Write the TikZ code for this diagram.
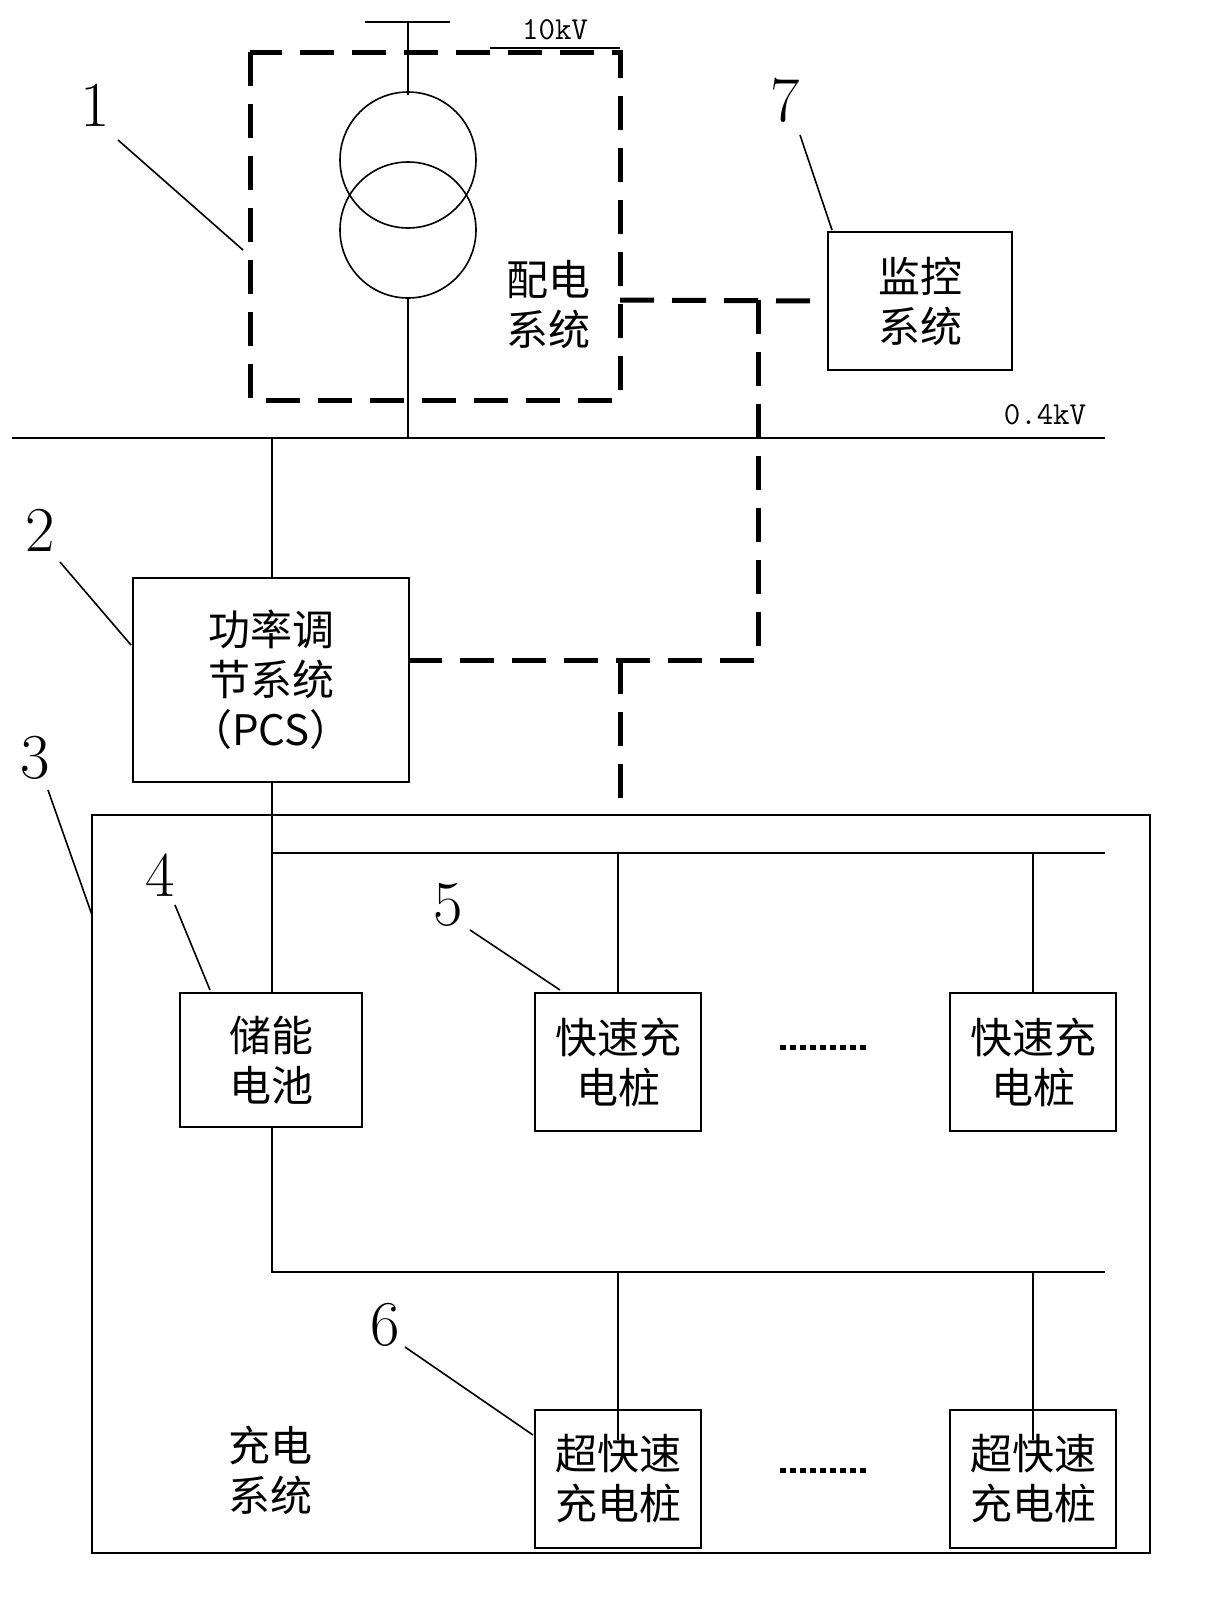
\documentclass[tikz,border=0pt]{standalone}
\usepackage{fontspec}
\newfontfamily\cjk{Noto Sans CJK SC}
\usetikzlibrary{positioning}

\begin{document}
\begin{tikzpicture}[x=0.5pt,y=-0.5pt,
    box/.style={draw,thick,minimum width=#1,inner sep=0pt,align=center,font=\cjk\fontsize{21}{25}\selectfont},
    wire/.style={draw,thick},
    ctrl/.style={draw,line width=2.5pt,dash pattern=on 17pt off 9pt},
    more/.style={draw,line width=2.5pt,dash pattern=on 3pt off 2pt},
    num/.style={font=\fontsize{32}{32}\selectfont},
    lbl/.style={font=\ttfamily\fontsize{16}{16}\selectfont}]
  \useasboundingbox (0,0) rectangle (1211,1623);
  % distribution system
  \draw[ctrl] (250,52) rectangle (620,400);
  \coordinate (hv) at (408,22);
  \draw[wire] (365,22) -- (450,22);
  \draw[wire] (hv) -- (408,95);
  \draw[wire] (408,160) circle (68);
  \draw[wire] (408,230) circle (68);
  \draw[wire] (490,48) -- (620,48);
  \node[lbl] at (555,30) {10kV};
  \node[box,draw=none] (dist) at (548,305) {配电\\系统};
  % 0.4kV bus
  \coordinate (busL) at (12,438);
  \coordinate (busR) at (1105,438);
  \draw[wire] (busL) -- (busR);
  \draw[wire] (408,298) -- (408,438);
  \node[lbl] at (1045,415) {0.4kV};
  % monitoring
  \node[box,minimum width=92pt,minimum height=69pt] (mon) at (920,301) {监控\\系统};
  \node[box,minimum width=138pt,minimum height=102pt] (pcs) at (271,680) {功率调\\节系统\\（PCS）};
  \draw[ctrl] (620,300) -- (mon.west);
  \draw[ctrl] (758,300) -- (758,660) -- (pcs.east |- 0,660);
  \draw[ctrl] (620,660) -- (620,815);
  \draw[wire] (272,438) -- (pcs.north -| 272,0);
  % charging system
  \draw[wire] (92,815) rectangle (1150,1553);
  \node[box,draw=none] at (270,1470) {充电\\系统};
  \node[box,minimum width=91pt,minimum height=67pt] (bat) at (271,1060) {储能\\电池};
  \node[box,minimum width=83pt,minimum height=69pt] (fast1) at (618,1062) {快速充\\电桩};
  \node[box,minimum width=83pt,minimum height=69pt] (fast2) at (1033,1062) {快速充\\电桩};
  \node[box,minimum width=83pt,minimum height=69pt] (ultra1) at (618,1479) {超快速\\充电桩};
  \node[box,minimum width=83pt,minimum height=69pt] (ultra2) at (1033,1479) {超快速\\充电桩};
  \draw[wire] (pcs.south -| 272,0) -- (bat.north -| 272,0);
  \draw[wire] (272,853) -- (1105,853);
  \draw[wire] (618,853) -- (fast1.north);
  \draw[wire] (1033,853) -- (fast2.north);
  \draw[wire] (bat.south -| 272,0) -- (272,1272) -- (1105,1272);
  \draw[wire] (618,1272) -- (618,1440);
  \draw[wire] (1033,1272) -- (1033,1440);
  \draw[more] (780,1047) -- (866,1047);
  \draw[more] (780,1470) -- (866,1470);
  % reference numbers
  \node[num] (n1) at (95,105) {1};
  \draw[wire] (118,140) -- (243,250);
  \node[num] (n2) at (40,530) {2};
  \draw[wire] (60,562) -- (131,645);
  \node[num] (n3) at (35,758) {3};
  \draw[wire] (48,790) -- (92,915);
  \node[num] (n4) at (160,875) {4};
  \draw[wire] (175,905) -- (210,990);
  \node[num] (n5) at (448,905) {5};
  \draw[wire] (470,930) -- (560,990);
  \node[num] (n6) at (385,1325) {6};
  \draw[wire] (405,1347) -- (533,1435);
  \node[num] (n7) at (785,100) {7};
  \draw[wire] (800,135) -- (832,230);
\end{tikzpicture}
\end{document}
